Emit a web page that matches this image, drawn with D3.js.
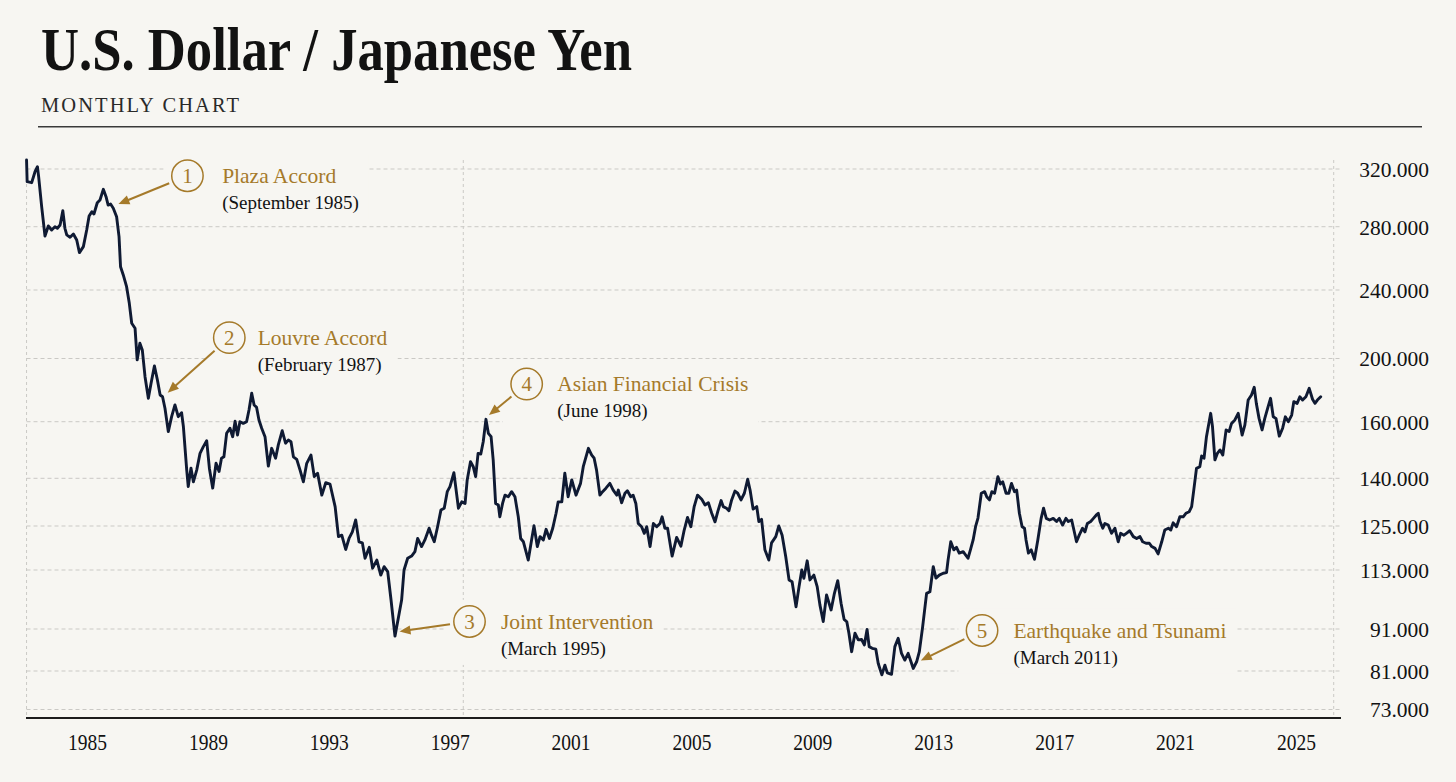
<!DOCTYPE html>
<html><head><meta charset="utf-8">
<script src="https://cdn.jsdelivr.net/npm/d3@7"></script>
<style>
html,body{margin:0;padding:0;background:#f7f6f2;}
svg{display:block;}
</style></head><body>
<svg id="chart" width="1456" height="782"></svg>
<script>
// ---------------- DATA ----------------
const yTicks = [320, 280, 240, 200, 160, 140, 125, 113, 91, 81, 73];
const xTicks = [1985, 1989, 1993, 1997, 2001, 2005, 2009, 2013, 2017, 2021, 2025];
const xGridYears = [1983, 1997.45, 2026.25];

// [decimal year, USD/JPY]
const usdJpy = [
[1983.00,326.2],[1983.02,311.2],[1983.17,310.5],[1983.28,318.1],[1983.36,321.6],[1983.40,314.7],[1983.50,293.9],[1983.61,274.1],[1983.72,280.5],[1983.83,277.9],
[1983.94,280.0],[1984.02,279.0],[1984.11,281.2],[1984.20,291.1],[1984.27,279.0],[1984.33,274.8],[1984.44,273.3],[1984.55,275.4],[1984.66,271.6],[1984.75,263.6],
[1984.88,267.4],[1984.99,277.9],[1985.07,287.4],[1985.16,290.4],[1985.23,288.8],[1985.34,296.6],[1985.43,298.5],[1985.54,305.9],[1985.63,300.8],[1985.70,295.0],
[1985.78,295.7],[1985.87,292.8],[1985.98,286.9],[1986.06,273.7],[1986.11,254.7],[1986.20,249.5],[1986.31,242.1],[1986.40,232.2],[1986.48,220.6],[1986.59,217.7],
[1986.66,199.1],[1986.75,208.9],[1986.83,205.0],[1986.92,188.5],[1987.03,174.8],[1987.12,184.3],[1987.23,195.3],[1987.33,186.4],[1987.42,176.9],[1987.50,175.8],
[1987.58,168.5],[1987.69,156.5],[1987.80,163.2],[1987.91,170.6],[1988.02,163.2],[1988.13,165.7],[1988.19,158.2],[1988.30,142.9],[1988.35,137.4],[1988.44,143.6],
[1988.52,138.9],[1988.63,142.9],[1988.74,148.8],[1988.85,151.2],[1988.96,153.3],[1989.05,143.5],[1989.16,136.9],[1989.27,145.3],[1989.37,142.4],[1989.45,147.1],
[1989.53,147.6],[1989.62,155.9],[1989.73,157.7],[1989.82,154.7],[1989.90,160.3],[1989.98,155.3],[1990.06,160.0],[1990.17,159.4],[1990.28,160.0],[1990.36,167.4],
[1990.45,178.0],[1990.53,170.6],[1990.61,169.1],[1990.69,161.1],[1990.78,157.7],[1990.89,154.7],[1991.00,144.3],[1991.11,150.6],[1991.24,147.1],[1991.33,151.8],
[1991.46,156.8],[1991.57,152.4],[1991.66,153.5],[1991.75,152.9],[1991.83,147.6],[1991.94,146.7],[1992.05,142.9],[1992.16,138.9],[1992.27,145.3],[1992.41,148.2],
[1992.52,140.6],[1992.63,141.8],[1992.77,134.7],[1992.90,138.6],[1993.04,138.2],[1993.21,131.1],[1993.32,122.1],[1993.43,122.5],[1993.56,118.6],[1993.67,121.6],
[1993.78,123.4],[1993.89,126.9],[1994.00,120.7],[1994.11,120.4],[1994.20,116.2],[1994.34,119.2],[1994.45,113.5],[1994.59,115.7],[1994.72,111.1],[1994.83,113.9],
[1994.95,112.4],[1995.06,101.8],[1995.19,89.3],[1995.30,95.0],[1995.41,101.8],[1995.49,113.0],[1995.61,116.2],[1995.74,116.8],[1995.85,118.0],[1995.94,121.6],
[1996.07,119.4],[1996.18,121.2],[1996.32,124.4],[1996.40,122.5],[1996.49,120.7],[1996.60,124.8],[1996.71,130.0],[1996.82,130.6],[1996.92,135.8],[1997.01,137.4],
[1997.14,142.0],[1997.29,130.6],[1997.40,132.6],[1997.51,132.1],[1997.58,139.5],[1997.69,145.9],[1997.78,144.1],[1997.86,140.6],[1997.94,148.8],[1998.03,148.6],
[1998.11,152.9],[1998.20,161.5],[1998.28,155.9],[1998.37,154.7],[1998.44,146.5],[1998.52,132.1],[1998.61,131.6],[1998.66,127.9],[1998.75,132.1],[1998.83,134.7],
[1998.94,134.2],[1999.05,135.8],[1999.16,134.2],[1999.27,127.9],[1999.35,121.6],[1999.44,120.7],[1999.60,115.7],[1999.71,121.2],[1999.79,125.1],[1999.90,119.4],
[1999.99,122.1],[2000.10,121.2],[2000.19,124.1],[2000.30,121.6],[2000.41,124.4],[2000.52,129.0],[2000.59,132.6],[2000.71,132.6],[2000.81,141.8],[2000.92,134.2],
[2001.04,139.5],[2001.18,134.7],[2001.33,138.4],[2001.42,144.1],[2001.59,150.6],[2001.70,148.2],[2001.78,147.1],[2001.86,142.9],[2001.97,134.7],[2002.06,135.8],
[2002.17,136.9],[2002.30,138.4],[2002.41,136.3],[2002.53,134.7],[2002.58,136.3],[2002.69,132.3],[2002.80,135.3],[2002.88,136.1],[2002.99,134.2],[2003.07,134.7],
[2003.16,132.1],[2003.24,125.8],[2003.35,124.8],[2003.44,123.0],[2003.52,124.8],[2003.63,119.4],[2003.74,125.8],[2003.85,124.8],[2003.96,125.8],[2004.03,127.9],
[2004.12,124.4],[2004.21,124.4],[2004.36,116.8],[2004.51,121.9],[2004.65,119.5],[2004.76,123.9],[2004.87,127.7],[2004.98,124.8],[2005.09,131.1],[2005.20,134.7],
[2005.34,133.4],[2005.45,131.6],[2005.56,132.3],[2005.67,129.0],[2005.78,126.3],[2005.87,129.5],[2005.98,133.0],[2006.05,131.1],[2006.16,130.6],[2006.24,129.8],
[2006.33,133.2],[2006.44,136.0],[2006.53,135.3],[2006.64,133.2],[2006.75,135.3],[2006.86,139.7],[2006.94,136.3],[2007.04,130.3],[2007.16,131.1],[2007.23,126.4],
[2007.32,127.1],[2007.43,118.5],[2007.56,115.7],[2007.65,120.4],[2007.79,122.1],[2007.89,125.0],[2008.00,122.5],[2008.12,116.6],[2008.23,109.3],[2008.33,108.6],
[2008.46,99.3],[2008.56,106.8],[2008.65,113.0],[2008.72,109.9],[2008.83,115.5],[2008.92,109.3],[2009.05,111.1],[2009.16,106.8],[2009.25,100.0],[2009.36,93.8],
[2009.47,103.7],[2009.62,98.1],[2009.73,104.3],[2009.84,109.0],[2009.95,100.6],[2010.05,94.6],[2010.14,93.7],[2010.21,90.0],[2010.30,85.6],[2010.41,90.0],
[2010.52,88.4],[2010.63,88.5],[2010.72,87.2],[2010.81,90.9],[2010.88,86.8],[2010.98,86.4],[2011.10,86.2],[2011.18,82.8],[2011.30,80.2],[2011.40,82.4],
[2011.48,80.6],[2011.62,80.3],[2011.73,86.8],[2011.84,88.8],[2011.95,85.2],[2012.06,83.6],[2012.17,85.2],[2012.34,81.6],[2012.45,83.2],[2012.54,85.6],
[2012.65,91.9],[2012.78,104.3],[2012.89,104.9],[2013.00,113.9],[2013.09,110.0],[2013.20,111.1],[2013.33,111.8],[2013.44,112.0],[2013.49,115.7],[2013.58,120.7],
[2013.68,118.5],[2013.77,119.2],[2013.86,117.6],[2013.99,118.0],[2014.15,116.2],[2014.23,118.5],[2014.32,121.2],[2014.40,124.8],[2014.48,127.5],[2014.59,135.3],
[2014.70,135.8],[2014.77,134.2],[2014.86,133.2],[2014.94,135.8],[2015.03,135.3],[2015.14,140.6],[2015.22,138.2],[2015.30,138.9],[2015.41,135.3],[2015.50,135.3],
[2015.59,138.4],[2015.69,135.8],[2015.76,136.3],[2015.85,129.0],[2015.94,124.8],[2016.02,124.4],[2016.07,121.2],[2016.15,117.6],[2016.24,118.5],[2016.35,115.9],
[2016.46,121.2],[2016.57,127.4],[2016.65,130.6],[2016.74,127.4],[2016.85,126.9],[2016.97,127.4],[2017.08,126.4],[2017.17,127.4],[2017.28,125.3],[2017.39,127.4],
[2017.47,126.4],[2017.58,126.9],[2017.63,124.8],[2017.74,120.7],[2017.83,122.5],[2017.94,124.4],[2018.02,123.4],[2018.10,125.8],[2018.21,126.4],[2018.30,127.4],
[2018.39,128.4],[2018.46,129.0],[2018.52,126.4],[2018.61,124.4],[2018.68,125.8],[2018.79,125.3],[2018.90,123.0],[2019.01,124.4],[2019.12,120.7],[2019.20,123.0],
[2019.31,122.5],[2019.39,123.0],[2019.50,123.7],[2019.62,122.1],[2019.73,121.6],[2019.84,122.1],[2019.93,120.7],[2020.04,120.3],[2020.15,120.3],[2020.23,119.4],
[2020.34,118.9],[2020.44,117.4],[2020.56,120.7],[2020.66,123.9],[2020.78,124.4],[2020.86,123.9],[2020.94,126.0],[2021.05,124.8],[2021.16,127.9],[2021.27,127.9],
[2021.36,129.0],[2021.47,129.5],[2021.55,131.1],[2021.62,136.3],[2021.71,143.5],[2021.82,144.1],[2021.88,147.9],[2021.96,147.1],[2022.04,154.7],[2022.18,165.3],
[2022.24,158.2],[2022.32,146.5],[2022.40,148.8],[2022.49,150.0],[2022.58,148.2],[2022.69,157.1],[2022.79,156.5],[2022.87,159.4],[2022.98,161.1],[2023.09,165.3],
[2023.22,155.3],[2023.31,158.8],[2023.42,173.7],[2023.53,176.9],[2023.62,181.8],[2023.69,171.6],[2023.78,162.1],[2023.88,157.1],[2023.97,162.1],[2024.08,169.5],
[2024.16,174.8],[2024.25,163.1],[2024.34,162.1],[2024.45,154.9],[2024.56,157.7],[2024.65,163.1],[2024.75,160.0],[2024.86,164.2],[2024.93,172.7],[2025.04,171.6],
[2025.13,175.8],[2025.22,173.7],[2025.33,175.8],[2025.44,181.1],[2025.55,174.2],[2025.63,171.6],[2025.71,173.7],[2025.82,175.8]
];

const annTitles = ["Plaza Accord", "Louvre Accord", "Joint Intervention", "Asian Financial Crisis", "Earthquake and Tsunami"];
const annDates  = ["(September 1985)", "(February 1987)", "(March 1995)", "(June 1998)", "(March 2011)"];
const annYears  = [1986.04, 1987.67, 1995.34, 1998.30, 2012.59];
const annValues = [295.7, 178.4, 90.4, 164.2, 83.5];

// ---------------- LAYOUT ----------------
const W = 1456, H = 782;
const plot = { left: 26.5, right: 1334, top: 160, bottom: 718 };
const yTickY = [169, 226.7, 290, 358.5, 421.7, 478.3, 526, 570, 629, 671, 709.5];
// circle offset from arrow tip (dx, dy) and text offset from circle centre
const annLayout = [[69, -28.3, 34.7], [61.6, -55, 28.4], [70, -10, 31.4], [37.7, -31, 30.6], [61.2, -30, 31.4]];

const C = {
  bg: "#f7f6f2", ink: "#121212", line: "#0f1a33", gold: "#a57a2a",
  grid: "#cac9c5", rule: "#3a3a3a"
};
const SERIF = "'Liberation Serif','DejaVu Serif',serif";

const svg = d3.select("#chart").attr("viewBox", `0 0 ${W} ${H}`);
svg.append("rect").attr("width", W).attr("height", H).attr("fill", C.bg);

const x = d3.scaleLinear().domain([1983, 2026.25]).range([26.55, 1333.7]);
const y = d3.scaleLinear().domain(yTicks).range(yTickY);

// ---- Title block ----
svg.append("text").attr("x", 41).attr("y", 70)
  .attr("font-family", SERIF).attr("font-weight", "bold").attr("font-size", 61)
  .attr("fill", C.ink).attr("textLength", 591).attr("lengthAdjust", "spacingAndGlyphs")
  .text("U.S. Dollar / Japanese Yen");
svg.append("text").attr("x", 41).attr("y", 112)
  .attr("font-family", SERIF).attr("font-size", 20.5)
  .attr("fill", "#2a2a2a").attr("textLength", 198).attr("lengthAdjust", "spacing")
  .text("MONTHLY CHART");
svg.append("line").attr("x1", 38).attr("x2", 1422).attr("y1", 126.7).attr("y2", 126.7)
  .attr("stroke", C.rule).attr("stroke-width", 1.5);

// ---- Grid ----
const grid = svg.append("g");
grid.selectAll("line.h").data(yTicks).join("line")
  .attr("x1", plot.left).attr("x2", 1340)
  .attr("y1", d => y(d)).attr("y2", d => y(d))
  .attr("stroke", C.grid).attr("stroke-width", 1).attr("stroke-dasharray", "4,3");
grid.selectAll("line.v").data(xGridYears).join("line")
  .attr("x1", d => x(d)).attr("x2", d => x(d))
  .attr("y1", plot.top).attr("y2", plot.bottom - 2)
  .attr("stroke", C.grid).attr("stroke-width", 1).attr("stroke-dasharray", "3,3");

// ---- Annotation backgrounds layer (drawn later) ----
const annBg = svg.append("g");

// ---- Axes ----
const xAxis = svg.append("g").attr("transform", `translate(0,${plot.bottom})`)
  .call(d3.axisBottom(x).tickValues(xTicks).tickFormat(d3.format("d")).tickSize(0).tickPadding(16));
xAxis.select(".domain").remove();
xAxis.selectAll("text").attr("font-family", SERIF).attr("font-size", 22.5).attr("fill", C.ink)
  .attr("textLength", 39).attr("lengthAdjust", "spacingAndGlyphs");
svg.append("line").attr("x1", 26).attr("x2", 1341).attr("y1", plot.bottom).attr("y2", plot.bottom)
  .attr("stroke", "#1c1c1c").attr("stroke-width", 2);

const yAxis = svg.append("g").attr("transform", `translate(1429,0)`)
  .call(d3.axisRight(y).tickValues(yTicks).tickFormat(d3.format(".3f")).tickSize(0).tickPadding(0));
yAxis.select(".domain").remove();
yAxis.selectAll("text").attr("font-family", SERIF).attr("font-size", 21.5).attr("fill", C.ink)
  .attr("text-anchor", "end").attr("x", 0).attr("dy", "0.34em");

// ---- Line ----
const line = d3.line().x(d => x(d[0])).y(d => y(d[1])).curve(d3.curveLinear);
svg.append("path").datum(usdJpy).attr("d", line)
  .attr("fill", "none").attr("stroke", C.line).attr("stroke-width", 2.9)
  .attr("stroke-linejoin", "round").attr("stroke-linecap", "round");

// ---- Annotations ----
const annLayer = svg.append("g");
const R = 15.7;
annTitles.forEach((title, i) => {
  const tx = x(annYears[i]), ty = y(annValues[i]);
  const [odx, ody, tdx] = annLayout[i];
  const cx = tx + odx, cy = ty + ody;
  const g = annLayer.append("g");
  g.append("circle").attr("cx", cx).attr("cy", cy).attr("r", R)
    .attr("fill", "none").attr("stroke", C.gold).attr("stroke-width", 1.5);
  g.append("text").attr("x", cx).attr("y", cy + 7.2).attr("text-anchor", "middle")
    .attr("font-family", SERIF).attr("font-size", 21).attr("fill", C.gold).text(i + 1);
  g.append("text").attr("x", cx + tdx).attr("y", cy + 7.2)
    .attr("font-family", SERIF).attr("font-size", 21.5).attr("fill", C.gold).text(title);
  g.append("text").attr("x", cx + tdx).attr("y", cy + 33.4)
    .attr("font-family", SERIF).attr("font-size", 19).attr("fill", C.ink).text(annDates[i]);
  const bb = g.node().getBBox();
  annBg.append("rect").attr("x", bb.x - 8).attr("y", bb.y - 6)
    .attr("width", bb.width + 18).attr("height", bb.height + 11).attr("fill", C.bg);
  // arrow
  const vx = tx - cx, vy = ty - cy, len = Math.hypot(vx, vy);
  const ux = vx / len, uy = vy / len;
  const sx = cx + ux * (R + 4), sy = cy + uy * (R + 4);
  const ah = 11, aw = 4.6;
  const bx = tx - ux * ah, by = ty - uy * ah;
  annLayer.append("line").attr("x1", sx).attr("y1", sy).attr("x2", bx + ux * 1).attr("y2", by + uy * 1)
    .attr("stroke", C.gold).attr("stroke-width", 2);
  annLayer.append("path")
    .attr("d", `M${tx},${ty}L${bx - uy * aw},${by + ux * aw}L${bx + uy * aw},${by - ux * aw}Z`)
    .attr("fill", C.gold);
});
</script>
</body></html>
